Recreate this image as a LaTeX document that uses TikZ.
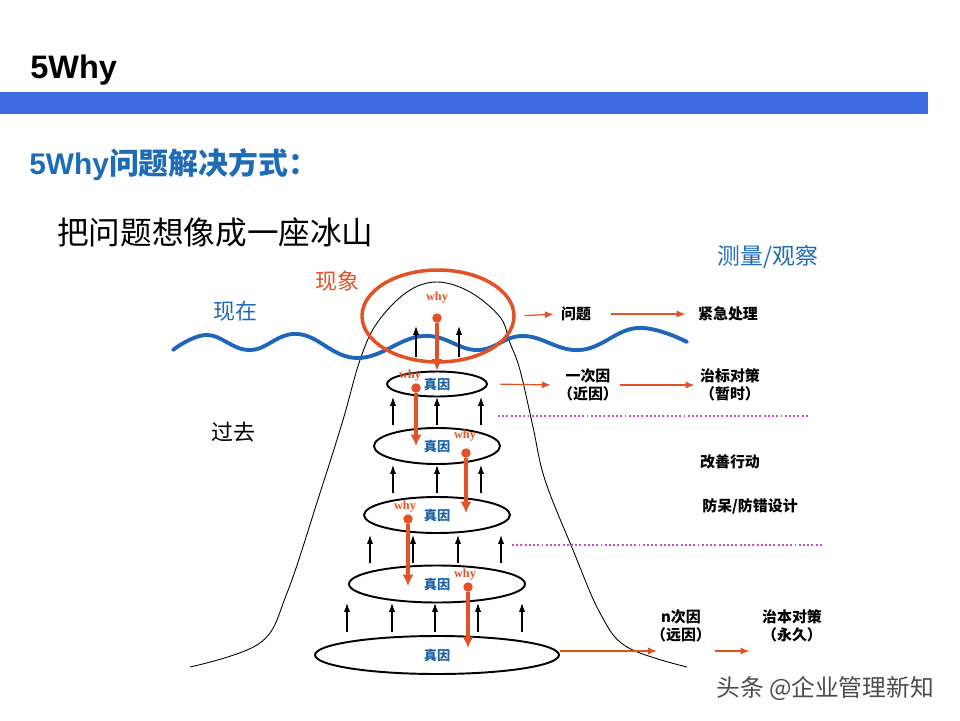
\documentclass[tikz,border=0pt]{standalone}
\usepackage{fontspec}
\setmainfont{Noto Sans CJK SC}
\newfontfamily\whyfont{Liberation Serif}
\newfontfamily\headfont{Liberation Sans}
\usepackage{tikz}
\usetikzlibrary{arrows.meta,shapes.geometric,calc}
\definecolor{barblue}{RGB}{60,104,224}
\definecolor{headblue}{RGB}{30,108,182}
\definecolor{causeblue}{RGB}{25,95,165}
\definecolor{waveblue}{RGB}{30,102,185}
\definecolor{wred}{RGB}{226,82,38}
\definecolor{dotpink}{RGB}{200,80,200}

\begin{document}
\begin{tikzpicture}[
  x=0.02cm, y=-0.02cm,
  lbl/.style={font=\fontsize{8.5}{10}\selectfont\bfseries, align=center, inner sep=1pt},
  side/.style={font=\fontsize{12.5}{14}\selectfont, inner sep=1pt},
  cause/.style={draw, ellipse, line width=1.1pt, inner sep=0pt, text=causeblue, font=\fontsize{7.5}{9}\selectfont\bfseries},
  why/.style={font=\whyfont\bfseries\fontsize{7}{8}\selectfont, text=wred, inner sep=0pt},
  rdot/.style={circle, fill=wred, inner sep=0pt, minimum size=0.19cm},
  red_arr/.style={-{Latex[length=6.5pt,width=6.5pt]}, line width=1.8pt, color=wred},
  up_arr/.style={-{Latex[length=5pt,width=3.5pt]}, line width=0.6pt, color=black},
  o_arr/.style={-{Latex[length=5pt,width=4pt]}, line width=0.7pt, color=wred},
  pink_line/.style={line width=1.1pt, color=dotpink, dash pattern=on 1.1pt off 1.3pt}
]
  \useasboundingbox (0,0) rectangle (960,720);

  % Header
  \node[anchor=west, inner sep=0pt, font=\headfont\bfseries\fontsize{18.5}{20}\selectfont] (title) at (30,70) {5Why};
  \fill[barblue] (0,92) rectangle (928,114);
  \node[anchor=west, inner sep=0pt, text=headblue, font=\bfseries\fontsize{17}{19}\selectfont] (sub) at (29,165) {{\headfont 5Why}问题解决方式：};
  \node[anchor=west, inner sep=0pt, font=\fontsize{18}{20}\selectfont] (ice) at (57,232) {把问题想像成一座冰山};

  % Iceberg outline and water line
  \draw[line width=0.5pt] plot[smooth, tension=0.6] coordinates {(190,667) (260,643) (287,593) (320,493) (343,420) (360,360) (377,323) (407,292) (437,282) (470,292) (500,317) (510,343) (520,370) (533,427) (545,480) (573,550) (600,613) (627,647) (687,667)};
  \draw[line width=2.2pt, color=waveblue, line cap=round] plot[smooth, tension=0.7] coordinates {(173,350) (207,335) (250,350) (298,334) (357,358) (423,336) (477,350) (523,336) (580,350) (637,328) (687,342)};

  % Side labels
  \node[side, text=wred] (pheno_lbl) at (337,281) {现象};
  \node[side, text=headblue] (now) at (235,311) {现在};
  \node[side] (past) at (233,432) {过去};
  \node[side, text=headblue, font=\fontsize{13}{15}\selectfont] (measure) at (768,257) {测量/观察};

  % Phenomenon and causes
  \node[draw, ellipse, line width=2pt, color=wred, minimum width=3.04cm, minimum height=1.84cm] (pheno) at (438,316) {};
  \node[cause, minimum width=2cm, minimum height=0.5cm] (e1) at (437,384) {真因};
  \node[cause, minimum width=2.52cm, minimum height=0.72cm] (e2) at (437,446) {真因};
  \node[cause, minimum width=2.92cm, minimum height=0.72cm] (e3) at (437,515) {真因};
  \node[cause, minimum width=3.52cm, minimum height=0.74cm] (e4) at (437,584) {真因};
  \node[cause, minimum width=4.88cm, minimum height=0.76cm] (e5) at (437,655) {真因};

  % Upward arrows between layers
  \foreach \y/\ya/\xs [count=\i] in {357/326/{416,459}, 425/397/{393,437,481}, 493/465/{393,437,481}, 563/535/{370,413,458,501}, 632/603/{347,392,435,478,522}} {
    \foreach \x [count=\j] in \xs {
      \coordinate (ua\i\j) at (\x,\y);
      \coordinate (ub\i\j) at (\x,\ya);
      \draw[up_arr] (ua\i\j) -- (ub\i\j);
    }
  }

  % Why chain
  \node[why] (w0) at (437,298) {why};
  \node[rdot] (d0) at (437,318) {};
  \draw[red_arr] (d0) -- (e1.north);
  \node[why] (w1) at (410,376) {why};
  \node[rdot] (d1) at (416,388) {};
  \coordinate (t1) at (416,446);
  \draw[red_arr] (d1) -- (t1);
  \node[why] (w2) at (465,436) {why};
  \node[rdot] (d2) at (466,453) {};
  \coordinate (t2) at (466,513);
  \draw[red_arr] (d2) -- (t2);
  \node[why] (w3) at (405,507) {why};
  \node[rdot] (d3) at (408,519) {};
  \coordinate (t3) at (408,586);
  \draw[red_arr] (d3) -- (t3);
  \node[why] (w4) at (465,575) {why};
  \node[rdot] (d4) at (468,587) {};
  \coordinate (t4) at (468,648);
  \draw[red_arr] (d4) -- (t4);

  % Measures on the right
  \node[lbl] (q1) at (576,314) {问题};
  \node[lbl] (q2) at (728,314) {紧急处理};
  \node[lbl] (r1) at (588,385) {一次因\\（近因）};
  \node[lbl] (r2) at (730,385) {治标对策\\（暂时）};
  \node[lbl] (act) at (730,462) {改善行动};
  \node[lbl] (poka) at (750,506) {防呆/防错设计};
  \node[lbl] (n1) at (681,626) {n次因\\（远因）};
  \node[lbl] (n2) at (792,626) {治本对策\\（永久）};

  \draw[o_arr, shorten <=5pt, shorten >=3pt] (pheno.east) -- (q1.west);
  \draw[o_arr, shorten <=10pt, shorten >=6pt] (q1.east) -- (q2.west);
  \draw[o_arr, shorten <=7pt, shorten >=3pt] (e1.east) -- (r1.west);
  \draw[o_arr, shorten >=2pt] (r1.east) -- (r2.west);
  \coordinate (n_in) at ($(n1.west |- e5.east)+(8,-4)$);
  \draw[o_arr] (e5.east |- n_in) -- (n_in);
  \draw[o_arr, shorten <=1pt, shorten >=6pt] (n1.east |- n_in) -- (n2.west |- n_in);

  % Dotted separators
  \draw[pink_line] (498,416) -- (808,416);
  \draw[pink_line] (512,545) -- (822,545);

  % Watermark
  \node[anchor=west, inner sep=0pt, text=black!70, font=\fontsize{13.5}{15}\selectfont] (mark) at (716,688) {头条 @企业管理新知};
\end{tikzpicture}
\end{document}
